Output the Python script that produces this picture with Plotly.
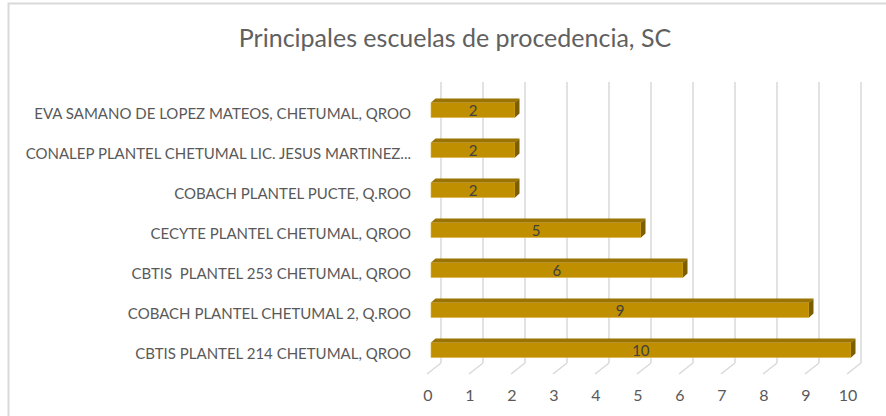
import plotly.graph_objects as go

# ---- data ----
schools = [
    "EVA SAMANO DE LOPEZ MATEOS, CHETUMAL, QROO",
    "CONALEP PLANTEL CHETUMAL LIC. JESUS MARTINEZ...",
    "COBACH PLANTEL PUCTE, Q.ROO",
    "CECYTE PLANTEL CHETUMAL, QROO",
    "CBTIS  PLANTEL 253 CHETUMAL, QROO",
    "COBACH PLANTEL CHETUMAL 2, Q.ROO",
    "CBTIS PLANTEL 214 CHETUMAL, QROO",
]
counts = [2, 2, 2, 5, 6, 9, 10]
x_ticks = list(range(0, 11))
title_text = "Principales escuelas de procedencia, SC"

# ---- geometry (pixels) ----
W, H = 886, 416
PL, PR, PT, PB = 420, 872, 82, 374
PX_PER_X = 42.0
X0_PX = 428.0
PX_PER_ROW = 40.0
ROW0_PX = 113.5

x_range = [(PL - X0_PX) / PX_PER_X, (PR - X0_PX) / PX_PER_X]
y_range = [(PB - ROW0_PX) / PX_PER_ROW, (PT - ROW0_PX) / PX_PER_ROW]

FONT = "Lato, Carlito, 'Liberation Sans', sans-serif"
FRONT = "#BF8F00"
TOP = "#9A7300"
SIDE = "#7C5D00"
GRID = "#D9D9D9"

bar_base = 3.0 / PX_PER_X
bar_width = 15.0 / PX_PER_ROW
bar_offset = -bar_width / 2 - 3.5 / PX_PER_ROW
depth_x = 4.5 / PX_PER_X
depth_y = 4.0 / PX_PER_ROW

rows = list(range(len(schools)))

fig = go.Figure()
fig.add_trace(go.Bar(
    y=rows, x=counts, base=bar_base, orientation="h",
    width=bar_width, offset=bar_offset,
    marker=dict(color=FRONT, line=dict(color="#D9AE3A", width=0.6)),
    text=[str(v) for v in counts], textposition="inside", textangle=0,
    insidetextanchor="middle", constraintext="none",
    textfont=dict(family=FONT, size=15, color="#404040"),
    hoverinfo="skip", showlegend=False,
))

shapes = []
# gridlines (back wall + floor diagonals)
back_dx = 13.0 / PX_PER_X
front_dx = -1.0 / PX_PER_X
floor_back = (PB - 363) / (PB - PT)
for t in x_ticks:
    shapes.append(dict(type="line", xref="x", yref="paper",
                       x0=t + back_dx, x1=t + back_dx, y0=floor_back, y1=1,
                       line=dict(color=GRID, width=1.5), layer="below"))
    shapes.append(dict(type="line", xref="x", yref="paper",
                       x0=t + front_dx, x1=t + back_dx, y0=0, y1=floor_back,
                       line=dict(color=GRID, width=1.5), layer="below"))

# 3D faces of bars
for k, v in zip(rows, counts):
    top = k + bar_offset
    bot = top + bar_width
    x_l = bar_base
    x_r = bar_base + v
    top_path = (f"M {x_l},{top} L {x_r},{top} L {x_r + depth_x},{top - depth_y} "
                f"L {x_l + depth_x},{top - depth_y} Z")
    side_path = (f"M {x_r},{top} L {x_r},{bot} L {x_r + depth_x},{bot - depth_y} "
                 f"L {x_r + depth_x},{top - depth_y} Z")
    shapes.append(dict(type="path", xref="x", yref="y", path=top_path,
                       fillcolor=TOP, line=dict(width=0), layer="above"))
    shapes.append(dict(type="path", xref="x", yref="y", path=side_path,
                       fillcolor=SIDE, line=dict(width=0), layer="above"))

# chart border
pw, ph = PR - PL, PB - PT
shapes.append(dict(type="rect", xref="paper", yref="paper",
                   x0=(8.5 - PL) / pw, x1=(900 - PL) / pw,
                   y0=(PB - 430) / ph, y1=(PB - 3.5) / ph,
                   line=dict(color="#D9D9D9", width=2), fillcolor="rgba(0,0,0,0)",
                   layer="below"))

fig.update_layout(
    width=W, height=H,
    margin=dict(l=PL, r=W - PR, t=PT, b=H - PB, pad=0),
    paper_bgcolor="white", plot_bgcolor="white",
    title=dict(text=title_text, x=455 / W, y=1 - 38 / H, xref="container",
               yref="container", xanchor="center", yanchor="middle",
               font=dict(family=FONT, size=25, color="#606060")),
    xaxis=dict(range=x_range, tickvals=x_ticks, ticktext=[str(t) for t in x_ticks],
               showgrid=False, zeroline=False, showline=False, ticks="",
               ticklabelstandoff=10, fixedrange=True,
               tickfont=dict(family=FONT, size=16, color="#595959")),
    yaxis=dict(range=y_range, tickvals=rows, ticktext=schools,
               showgrid=False, zeroline=False, showline=False, ticks="",
               ticklabelstandoff=8, fixedrange=True,
               tickfont=dict(family=FONT, size=15, color="#595959")),
    shapes=shapes,
)

fig.write_html("out.html", config={"displayModeBar": False},
               post_script="document.body.style.margin='0';")
